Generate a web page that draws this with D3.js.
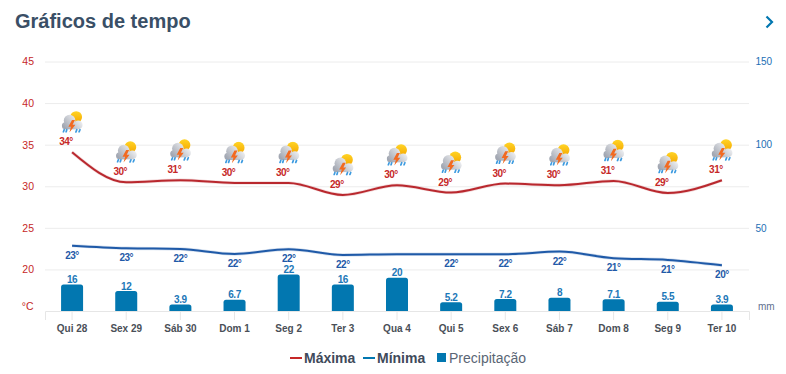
<!DOCTYPE html>
<html lang="pt">
<head>
<meta charset="utf-8">
<title>Gráficos de tempo</title>
<script src="https://cdn.jsdelivr.net/npm/d3@7"></script>
<style>
  html, body { margin: 0; padding: 0; background: #fff; }
  svg { display: block; font-family: "Liberation Sans", Arial, sans-serif; }
</style>
</head>
<body>
<svg id="chart" width="786" height="374"></svg>
<script>
"use strict";

const days = ["Qui 28", "Sex 29", "Sáb 30", "Dom 1", "Seg 2", "Ter 3", "Qua 4", "Qui 5", "Sex 6", "Sáb 7", "Dom 8", "Seg 9", "Ter 10"];
// valores reais da curva (as etiquetas vêm arredondadas)
const maxCurve = [34.09, 30.48, 30.72, 30.4, 30.4, 28.95, 30.12, 29.24, 30.32, 30.12, 30.64, 29.19, 30.72];
const minCurve = [22.86, 22.55, 22.46, 21.86, 22.43, 21.74, 21.83, 21.83, 21.83, 22.14, 21.35, 21.14, 20.5];
const maxLabels = [34, 30, 31, 30, 30, 29, 30, 29, 30, 30, 31, 29, 31];
// Qua 4 não tem etiqueta na imagem original
const minLabels = [23, 23, 22, 22, 22, 22, null, 22, 22, 22, 21, 21, 20];
const precip = [16, 12, 3.9, 6.7, 22, 16, 20, 5.2, 7.2, 8, 7.1, 5.5, 3.9];
const tempTicks = [20, 25, 30, 35, 40, 45];
const precipTicks = [50, 100, 150];

const RED = "#c62828";
const BLUE = "#0277b0";
const LINE_BLUE = "#1f5aa8";

const svg = d3.select("#chart");

// ícone de trovoada (nuvem, sol, raio e chuva)
const defs = svg.append("defs");
const cloudGrad = defs.append("linearGradient").attr("id", "cloudGrad").attr("gradientUnits", "userSpaceOnUse")
  .attr("x1", 17).attr("y1", 6).attr("x2", 4).attr("y2", 18);
cloudGrad.append("stop").attr("offset", "0%").attr("stop-color", "#f2f3f5");
cloudGrad.append("stop").attr("offset", "100%").attr("stop-color", "#a2a7b2");
const sunGrad = defs.append("linearGradient").attr("id", "sunGrad").attr("x1", 0).attr("x2", 0).attr("y1", 0).attr("y2", 1);
sunGrad.append("stop").attr("offset", "0%").attr("stop-color", "#ffd426");
sunGrad.append("stop").attr("offset", "100%").attr("stop-color", "#f6a800");

const icon = defs.append("symbol").attr("id", "storm").attr("viewBox", "0 0 22 22");
icon.append("circle").attr("cx", 14.6).attr("cy", 6.3).attr("r", 5.9).attr("fill", "url(#sunGrad)");
const cloud = icon.append("g").attr("fill", "url(#cloudGrad)");
cloud.append("circle").attr("cx", 8).attr("cy", 9.8).attr("r", 5.8);
cloud.append("circle").attr("cx", 16.6).attr("cy", 14.2).attr("r", 4.4);
cloud.append("circle").attr("cx", 3.9).attr("cy", 15).attr("r", 3.6);
cloud.append("rect").attr("x", 3.9).attr("y", 11).attr("width", 12.7).attr("height", 7.6);
icon.append("path").attr("d", "M10.4 9.2l-3.6 6.8h2.6l-1.6 5.8l6 -7.8h-2.8l2.4 -4.8z").attr("fill", "#f26a21");
icon.append("path")
  .attr("d", "M2.6 19l-.8 2.2M5.2 19l-.7 2.2M15.2 19l-.9 2.4M18.4 19l-.9 2.2")
  .attr("stroke", "#3d9be0").attr("stroke-width", 1.7).attr("stroke-linecap", "round");

// escalas
const x = d3.scaleBand().domain(days).range([45, 749]);
const cx = (d) => x(d) + x.bandwidth() / 2;
const yTemp = d3.scaleLinear().domain([15, 45]).range([311, 61.5]);
const yPrecip = d3.scaleLinear().domain([0, 150]).range([311, 61.5]);

// título e seta
svg.append("text").attr("x", 15).attr("y", 28).attr("font-size", 20).attr("font-weight", "bold").attr("fill", "#3a4f66").text("Gráficos de tempo");
svg.append("path").attr("d", "M766.5 16.5l5.5 5.5l-5.5 5.5").attr("fill", "none").attr("stroke", BLUE).attr("stroke-width", 2.2);

// grelha e eixos
const leftAxis = svg.append("g")
  .attr("transform", "translate(45,0)")
  .call(d3.axisLeft(yTemp).tickValues(tempTicks).tickSize(-704).tickPadding(11));
leftAxis.select(".domain").remove();
leftAxis.selectAll("line").attr("stroke", "#ececec");
leftAxis.selectAll("text").attr("fill", RED).attr("font-size", 10.5).attr("font-family", "inherit");

const rightAxis = svg.append("g")
  .attr("transform", "translate(749,0)")
  .call(d3.axisRight(yPrecip).tickValues(precipTicks).tickSize(0).tickPadding(6.5));
rightAxis.select(".domain").remove();
rightAxis.selectAll("text").attr("fill", "#1c6fb5").attr("font-size", 10).attr("font-family", "inherit");

svg.append("text").attr("x", 33.5).attr("y", yTemp(15) - 4).attr("text-anchor", "end").attr("font-size", 10.5).attr("fill", RED).attr("dominant-baseline", "middle").text("°C");
svg.append("text").attr("x", 758).attr("y", yPrecip(0) - 3.5).attr("font-size", 10).attr("fill", "#5f6f8f").attr("dominant-baseline", "middle").text("mm");

const bottomAxis = svg.append("g")
  .attr("transform", `translate(0,${yPrecip(0)})`)
  .call(d3.axisBottom(x).tickSize(9).tickPadding(5));
bottomAxis.select(".domain").attr("stroke", "#e6e6e6");
bottomAxis.selectAll("line").attr("stroke", "#e6e6e6");
bottomAxis.selectAll("text").attr("fill", "#4a4f57").attr("font-size", 10).attr("font-weight", "bold").attr("font-family", "inherit");

// barras de precipitação
const barW = 22;
const r = 2.5;
svg.append("g").selectAll("path").data(precip).join("path")
  .attr("fill", BLUE)
  .attr("d", (d, i) => {
    const left = cx(days[i]) - barW / 2;
    const top = yPrecip(d);
    const h = yPrecip(0) - top;
    return `M${left},${top + h}V${top + r}Q${left},${top} ${left + r},${top}H${left + barW - r}Q${left + barW},${top} ${left + barW},${top + r}V${top + h}Z`;
  });

svg.append("g").selectAll("text").data(precip).join("text")
  .attr("x", (d, i) => cx(days[i]))
  .attr("y", (d) => yPrecip(d) - 1.5)
  .attr("text-anchor", "middle").attr("font-size", 10).attr("font-weight", "bold").attr("letter-spacing", -0.4)
  .attr("fill", "#1c78b8")
  .text((d) => d);

// linhas, com uma sombra leve por baixo
const line = d3.line().x((d, i) => cx(days[i])).y((d) => yTemp(d)).curve(d3.curveMonotoneX);
[[maxCurve, "#b9282e"], [minCurve, LINE_BLUE]].forEach(([values, color]) => {
  svg.append("path").datum(values).attr("d", line).attr("fill", "none").attr("stroke", color).attr("stroke-width", 3.4).attr("stroke-opacity", 0.18);
  svg.append("path").datum(values).attr("d", line).attr("fill", "none").attr("stroke", color).attr("stroke-width", 2);
});

// etiquetas de temperatura
svg.append("g").selectAll("text").data(maxLabels).join("text")
  .attr("x", (d, i) => cx(days[i]) - 6)
  .attr("y", (d, i) => yTemp(maxCurve[i]) - 7)
  .attr("text-anchor", "middle")
  .attr("font-size", 10).attr("font-weight", "bold").attr("letter-spacing", -0.5).attr("fill", RED)
  .text((d) => `${d}°`);

const minRows = minLabels.map((v, i) => ({ v, i })).filter((d) => d.v !== null);
svg.append("g").selectAll("text").data(minRows).join("text")
  .attr("x", (d) => cx(days[d.i]))
  .attr("y", (d) => yTemp(minCurve[d.i]) + 13)
  .attr("text-anchor", "middle")
  .attr("font-size", 10).attr("font-weight", "bold").attr("letter-spacing", -0.5).attr("fill", LINE_BLUE)
  .text((d) => `${d.v}°`);

// ícones por cima das etiquetas
svg.append("g").selectAll("use").data(maxCurve).join("use")
  .attr("href", "#storm")
  .attr("width", 22).attr("height", 22)
  .attr("x", (d, i) => cx(days[i]) - 10.5)
  .attr("y", (d) => yTemp(d) - 41.5);

// legenda
const legend = svg.append("g");
legend.append("line").attr("x1", 290).attr("x2", 302).attr("y1", 358).attr("y2", 358).attr("stroke", RED).attr("stroke-width", 2);
legend.append("text").attr("x", 304).attr("y", 363).attr("font-size", 14).attr("font-weight", "bold").attr("fill", "#3f4a5a").text("Máxima");
legend.append("line").attr("x1", 363).attr("x2", 375).attr("y1", 358).attr("y2", 358).attr("stroke", BLUE).attr("stroke-width", 2);
legend.append("text").attr("x", 377).attr("y", 363).attr("font-size", 14).attr("font-weight", "bold").attr("fill", "#3f4a5a").text("Mínima");
legend.append("rect").attr("x", 437).attr("y", 353).attr("width", 9).attr("height", 9).attr("fill", BLUE);
legend.append("text").attr("x", 449).attr("y", 363).attr("font-size", 14).attr("fill", "#5a6675").text("Precipitação");
</script>
</body>
</html>
